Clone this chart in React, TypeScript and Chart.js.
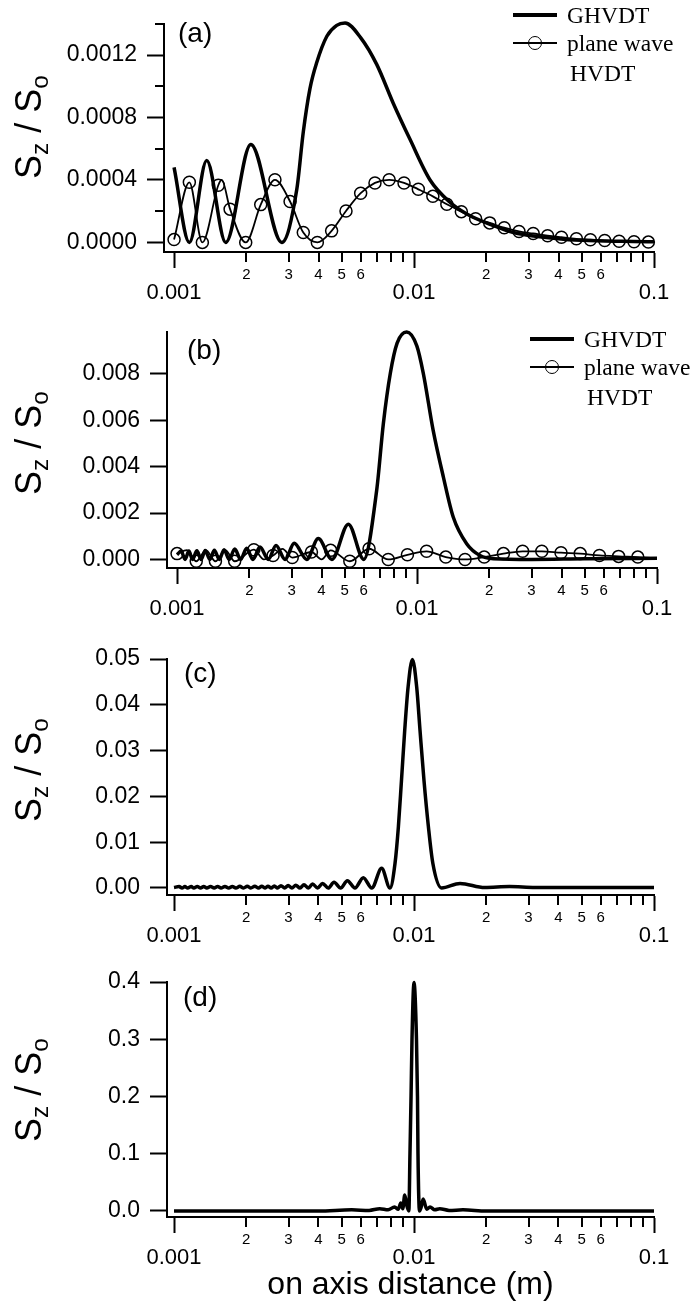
import React, { useEffect, useRef } from 'react';
import { Chart, registerables } from 'chart.js';

Chart.register(...registerables);

const FONT_SANS = '"Liberation Sans", Arial, Helvetica, sans-serif';
const FONT_SERIF = '"Liberation Serif", "Times New Roman", serif';

// ---------- shared x axis ticks ----------
const X_TICKS = [0.001, 0.002, 0.003, 0.004, 0.005, 0.006, 0.007, 0.008, 0.009, 0.01, 0.02, 0.03, 0.04, 0.05, 0.06, 0.07, 0.08, 0.09, 0.1];
const X_TICK_LABELS = ['0.001', '2', '3', '4', '5', '6', '', '', '', '0.01', '2', '3', '4', '5', '6', '', '', '', '0.1'];
const X_MAJOR = [0.001, 0.01, 0.1];

// ---------- panel (a) ----------
const A_Y_TICKS = [0, 0.0004, 0.0008, 0.0012];
const A_Y_LABELS = ['0.0000', '0.0004', '0.0008', '0.0012'];
const A_Y_MINOR = [0.0002, 0.0006, 0.001, 0.0014];
const A_GH_X = [0.001, 0.001158, 0.001368, 0.001642, 0.002089, 0.002812, 0.003247, 0.003456, 0.003684, 0.003928, 0.004332, 0.004762, 0.00516, 0.006, 0.00699, 0.0082, 0.00962, 0.01166, 0.014, 0.0166, 0.0214, 0.02595, 0.0419, 0.1];
const A_GH_Y = [0.00048, 0, 0.000524, 0, 0.000627, 0, 0.00034, 0.000708, 0.000985, 0.00115, 0.00132, 0.00139, 0.001405, 0.00131, 0.00114, 0.00089, 0.00066, 0.0004, 0.000262, 0.000182, 0.000108, 0.000063, 0.000021, 0.000004];
const A_PW_X = [0.001, 0.001158, 0.001312, 0.001529, 0.001712, 0.001989, 0.002297, 0.002633, 0.003044, 0.003456, 0.003954, 0.004535, 0.005206, 0.005993, 0.006874, 0.007875, 0.009085, 0.01042, 0.01198, 0.0137, 0.01575, 0.01806, 0.02067, 0.02376, 0.02738, 0.03137, 0.03603, 0.04115, 0.0475, 0.05432, 0.06231, 0.07155, 0.08254, 0.09475];
const A_PW_Y = [0.000018, 0.000385, 0, 0.000366, 0.000213, 0, 0.000242, 0.000401, 0.000262, 0.000063, 0, 0.000074, 0.000201, 0.000315, 0.000381, 0.000401, 0.000381, 0.00034, 0.000295, 0.000244, 0.000197, 0.000152, 0.000125, 0.000094, 0.00007, 0.000057, 0.000043, 0.000033, 0.000023, 0.000017, 0.000012, 0.000008, 0.000004, 0.000002];
const A_PW_LINE_X = [0.00158, 0.1];
const A_PW_LINE_Y = [0.0004, 0.000002];

// ---------- panel (b) ----------
const B_Y_TICKS = [0, 0.002, 0.004, 0.006, 0.008];
const B_Y_LABELS = ['0.000', '0.002', '0.004', '0.006', '0.008'];
const B_GH_X = [0.001, 0.00104, 0.00108, 0.00112, 0.00116, 0.00121, 0.00126, 0.00131, 0.00137, 0.00143, 0.0015, 0.00157, 0.00165, 0.00174, 0.00184, 0.00195, 0.00207, 0.002216, 0.0024, 0.002585, 0.00282, 0.003077, 0.00347, 0.003877, 0.00442, 0.005175, 0.006, 0.00679, 0.00724, 0.00774, 0.00826, 0.00906, 0.00998, 0.01062, 0.01167, 0.01287, 0.01415, 0.0161, 0.0183, 0.0208, 0.03, 0.05, 0.1];
const B_GH_Y = [0.0002, 0.00036, 0, 0.00036, 0, 0.00037, 0, 0.00038, 0, 0.0004, 0, 0.00042, 0, 0.00045, 0, 0.00048, 0, 0.00053, 0, 0.0006, 0, 0.0007, 0, 0.0009, 0, 0.00152, 0, 0.00298, 0.00586, 0.00802, 0.00932, 0.0098, 0.0092, 0.00802, 0.00557, 0.00356, 0.00183, 0.00068, 0.00017, 0.00003, 0, 0.00003, 0.00005];
const B_PW_X = [0.001, 0.001202, 0.001445, 0.001738, 0.002089, 0.002512, 0.00302, 0.003631, 0.004365, 0.005248, 0.00631, 0.007586, 0.00912, 0.01096, 0.01318, 0.01585, 0.01905, 0.02291, 0.02754, 0.03311, 0.03981, 0.04786, 0.05754, 0.06918, 0.08318];
const B_PW_Y = [0.00025, -0.00008, -0.00008, -0.00008, 0.00042, 0.00017, 0.00008, 0.00032, 0.00039, -0.00008, 0.00046, 0, 0.0002, 0.00035, 0.0001, 0, 0.0001, 0.00025, 0.00035, 0.00035, 0.00029, 0.00025, 0.00017, 0.00013, 0.0001];
const B_PW_LINE_X = [0.0011, 0.00132, 0.00159, 0.0023, 0.00275, 0.004, 0.1];
const B_PW_LINE_Y = [0.0004, 0.0004, 0.0004, 0, 0.00045, 0, 0.00005];

// ---------- panel (c) ----------
const C_Y_TICKS = [0, 0.01, 0.02, 0.03, 0.04, 0.05];
const C_Y_LABELS = ['0.00', '0.01', '0.02', '0.03', '0.04', '0.05'];
const C_GH_X = [0.001, 0.00105, 0.00108, 0.00111, 0.00114, 0.00118, 0.00121, 0.00125, 0.00129, 0.00133, 0.00137, 0.00142, 0.00147, 0.00152, 0.00157, 0.00163, 0.00169, 0.00175, 0.00181, 0.00188, 0.00195, 0.00202, 0.00209, 0.00217, 0.00225, 0.00232, 0.0024, 0.002464, 0.00254, 0.002618, 0.0027, 0.002791, 0.00289, 0.002989, 0.0031, 0.003216, 0.00335, 0.00348, 0.00363, 0.003779, 0.003965, 0.004159, 0.00439, 0.004642, 0.004948, 0.005275, 0.005675, 0.006148, 0.006669, 0.00733, 0.00794, 0.008336, 0.00861, 0.00887, 0.00915, 0.00945, 0.00985, 0.01026, 0.01059, 0.011, 0.01148, 0.01198, 0.01303, 0.01555, 0.0197, 0.025, 0.032, 0.1];
const C_GH_Y = [0.0001, 0.0003, 0, 0.0003, 0, 0.0003, 0, 0.0003, 0, 0.00032, 0, 0.00032, 0, 0.00033, 0, 0.00034, 0, 0.00035, 0, 0.00036, 0, 0.00037, 0, 0.00038, 0, 0.00039, 0, 0.0004, 0, 0.00045, 0, 0.0005, 0, 0.00055, 0, 0.0006, 0, 0.0007, 0, 0.00087, 0, 0.001, 0, 0.00124, 0, 0.0016, 0, 0.00225, 0, 0.0043, 0, 0.0054, 0.0134, 0.0236, 0.0345, 0.0439, 0.0499, 0.0439, 0.0345, 0.0236, 0.0134, 0.0054, 0, 0.001, 0.0001, 0.0003, 0.0001, 0.0001];

// ---------- panel (d) ----------
const D_Y_TICKS = [0, 0.1, 0.2, 0.3, 0.4];
const D_Y_LABELS = ['0.0', '0.1', '0.2', '0.3', '0.4'];
const D_GH_X = [0.001, 0.004, 0.0055, 0.0065, 0.0072, 0.0078, 0.0083, 0.0086, 0.00881, 0.00898, 0.00915, 0.00935, 0.00952, 0.00962, 0.00972, 0.00981, 0.01, 0.01024, 0.01034, 0.01039, 0.01054, 0.0107, 0.01092, 0.0113, 0.01166, 0.0122, 0.0128, 0.014, 0.016, 0.02, 0.1];
const D_GH_Y = [0, 0, 0.002, 0.001, 0.004, 0.002, 0.007, 0.003, 0.014, 0.004, 0.028, 0.008, 0, 0.1, 0.2, 0.3, 0.399, 0.3, 0.2, 0.1, 0, 0.006, 0.021, 0.003, 0.007, 0.002, 0.004, 0.001, 0.002, 0, 0];

// ---------- layout (positions only) ----------
type Panel = {
  key: string;
  top: number; height: number; padTop: number; left: number; right: number; xAxisH: number;
  xMin: number; xMax: number; yMin: number; yMax: number;
  yTicks: number[]; yLabels: string[]; yMinor: number[];
  ghX: number[]; ghY: number[];
  pwX?: number[]; pwY?: number[]; pwLX?: number[]; pwLY?: number[];
  xTitle?: string;
};

const PANELS: Panel[] = [
  { key: 'a', top: 0, height: 306, padTop: 14, left: 164, right: 654, xAxisH: 54, xMin: 0.000908, xMax: 0.1, yMin: -0.0000614, yMax: 0.0014, yTicks: A_Y_TICKS, yLabels: A_Y_LABELS, yMinor: A_Y_MINOR, ghX: A_GH_X, ghY: A_GH_Y, pwX: A_PW_X, pwY: A_PW_Y, pwLX: A_PW_LINE_X, pwLY: A_PW_LINE_Y },
  { key: 'b', top: 306, height: 322, padTop: 26, left: 167, right: 657, xAxisH: 60, xMin: 0.000908, xMax: 0.1, yMin: -0.00037, yMax: 0.0098, yTicks: B_Y_TICKS, yLabels: B_Y_LABELS, yMinor: [], ghX: B_GH_X, ghY: B_GH_Y, pwX: B_PW_X, pwY: B_PW_Y, pwLX: B_PW_LINE_X, pwLY: B_PW_LINE_Y },
  { key: 'c', top: 628, height: 321, padTop: 31, left: 167, right: 654, xAxisH: 54, xMin: 0.000935, xMax: 0.1, yMin: -0.00153, yMax: 0.05, yTicks: C_Y_TICKS, yLabels: C_Y_LABELS, yMinor: [], ghX: C_GH_X, ghY: C_GH_Y },
  { key: 'd', top: 949, height: 355, padTop: 33, left: 167, right: 654, xAxisH: 87, xMin: 0.000935, xMax: 0.1, yMin: -0.0105, yMax: 0.4, yTicks: D_Y_TICKS, yLabels: D_Y_LABELS, yMinor: [], ghX: D_GH_X, ghY: D_GH_Y, xTitle: 'on axis distance (m)' },
];

function pts(xs: number[], ys: number[]) {
  return xs.map((x, i) => ({ x, y: ys[i] }));
}

function makeMinorTicks(yMinor: number[]) {
  return {
    id: 'minorTicks',
    afterDraw(chart: any) {
      const { ctx, chartArea, scales } = chart;
      ctx.save();
      ctx.strokeStyle = '#000';
      ctx.lineWidth = 2;
      for (const v of X_TICKS) {
        if (X_MAJOR.includes(v)) continue;
        const px = Math.round(scales.x.getPixelForValue(v));
        ctx.beginPath();
        ctx.moveTo(px, chartArea.bottom);
        ctx.lineTo(px, chartArea.bottom + 10);
        ctx.stroke();
      }
      for (const v of yMinor) {
        const py = Math.round(scales.y.getPixelForValue(v));
        ctx.beginPath();
        ctx.moveTo(chartArea.left - 9, py);
        ctx.lineTo(chartArea.left, py);
        ctx.stroke();
      }
      ctx.restore();
    },
  };
}

function makeConfig(p: Panel): any {
  const datasets: any[] = [
    {
      label: 'GHVDT',
      data: pts(p.ghX, p.ghY),
      borderColor: '#000',
      borderWidth: 3.5,
      pointRadius: 0,
      cubicInterpolationMode: 'monotone',
      fill: false,
      clip: false,
    },
  ];
  if (p.pwX && p.pwY) {
    const line = pts(p.pwX, p.pwY).concat(pts(p.pwLX || [], p.pwLY || [])).sort((a, b) => a.x - b.x);
    datasets.push({
      label: 'plane wave HVDT',
      data: line,
      borderColor: '#000',
      borderWidth: 1.8,
      pointRadius: 0,
      cubicInterpolationMode: 'monotone',
      fill: false,
      clip: false,
    });
    datasets.push({
      label: 'plane wave HVDT markers',
      data: pts(p.pwX, p.pwY),
      showLine: false,
      pointRadius: 6,
      pointBorderWidth: 1.5,
      pointBorderColor: '#000',
      pointBackgroundColor: 'rgba(0,0,0,0)',
      clip: false,
    });
  }
  return {
    type: 'line',
    data: { datasets },
    plugins: [makeMinorTicks(p.yMinor)],
    options: {
      animation: false,
      responsive: false,
      maintainAspectRatio: false,
      events: [],
      layout: { padding: { top: p.padTop, right: 694 - p.right, bottom: 0, left: 0 } },
      plugins: { legend: { display: false }, tooltip: { enabled: false } },
      scales: {
        x: {
          type: 'logarithmic',
          min: p.xMin,
          max: p.xMax,
          bounds: 'data',
          afterBuildTicks: (s: any) => {
            s.ticks = X_TICKS.map((v) => ({ value: v, major: X_MAJOR.includes(v) }));
          },
          afterFit: (s: any) => {
            s.height = p.xAxisH;
          },
          grid: {
            display: true,
            drawOnChartArea: false,
            drawTicks: true,
            tickLength: 16,
            tickWidth: 2,
            tickColor: (ctx: any) => (X_MAJOR.includes(X_TICKS[ctx.index]) ? '#000' : 'rgba(0,0,0,0)'),
          },
          border: { display: true, width: 2, color: '#000' },
          ticks: {
            autoSkip: false,
            maxRotation: 0,
            minRotation: 0,
            padding: 0,
            color: '#000',
            font: (ctx: any) =>
              X_MAJOR.includes(X_TICKS[ctx.index])
                ? { family: FONT_SANS, size: 22, lineHeight: '16.3px' }
                : { family: FONT_SANS, size: 15, lineHeight: '13px' },
            callback: (_v: any, i: number) => (X_MAJOR.includes(X_TICKS[i]) ? ['', X_TICK_LABELS[i]] : X_TICK_LABELS[i]),
          },
          title: p.xTitle
            ? { display: true, text: p.xTitle, color: '#000', font: { family: FONT_SANS, size: 32, lineHeight: 1.2 }, padding: { top: 0, bottom: 0 } }
            : { display: false },
        },
        y: {
          type: 'linear',
          min: p.yMin,
          max: p.yMax,
          bounds: 'data',
          afterBuildTicks: (s: any) => {
            s.ticks = p.yTicks.map((v) => ({ value: v }));
          },
          afterFit: (s: any) => {
            s.width = p.left;
          },
          grid: {
            display: true,
            drawOnChartArea: false,
            drawTicks: true,
            tickLength: 17,
            tickWidth: 2,
            tickColor: '#000',
          },
          border: { display: true, width: 2, color: '#000' },
          ticks: {
            autoSkip: false,
            padding: 10,
            color: '#000',
            font: { family: FONT_SANS, size: 23 },
            callback: (_v: any, i: number) => p.yLabels[i],
          },
        },
      },
    },
  };
}

function PanelChart({ p }: { p: Panel }) {
  const ref = useRef<HTMLCanvasElement>(null);
  useEffect(() => {
    if (!ref.current) return;
    const chart = new Chart(ref.current, makeConfig(p));
    return () => chart.destroy();
  }, []);
  return (
    <canvas
      ref={ref}
      width={694}
      height={p.height}
      style={{ position: 'absolute', left: 0, top: p.top, width: 694, height: p.height, display: 'block' }}
    />
  );
}

const PANEL_LABELS = [
  { text: '(a)', x: 178, y: 33 },
  { text: '(b)', x: 187, y: 350 },
  { text: '(c)', x: 184, y: 673 },
  { text: '(d)', x: 183, y: 997 },
];

const Y_TITLE_CENTERS = [127, 443, 770, 1090];

const LEGENDS = [
  { lineX: 513, textX: 567, y1: 15, y2: 43, y3: 73, text3X: 570 },
  { lineX: 530, textX: 584, y1: 339, y2: 367, y3: 397, text3X: 587 },
];

function Legend({ l }: { l: (typeof LEGENDS)[number] }) {
  const txt = (s: string, x: number, y: number) => (
    <div
      style={{
        position: 'absolute', left: x, top: y, transform: 'translateY(-50%)',
        fontFamily: FONT_SERIF, fontSize: 23.5, lineHeight: '24px', whiteSpace: 'nowrap', color: '#000',
      }}
    >
      {s}
    </div>
  );
  return (
    <>
      <div style={{ position: 'absolute', left: l.lineX, top: l.y1 - 2, width: 44, height: 4, background: '#000' }} />
      {txt('GHVDT', l.textX, l.y1)}
      <div style={{ position: 'absolute', left: l.lineX, top: l.y2 - 1, width: 44, height: 2, background: '#000' }} />
      <div
        style={{
          position: 'absolute', left: l.lineX + 22 - 7, top: l.y2 - 7, width: 14, height: 14,
          borderRadius: '50%', border: '1.5px solid #000', boxSizing: 'border-box',
        }}
      />
      {txt('plane wave', l.textX, l.y2)}
      {txt('HVDT', l.text3X, l.y3)}
    </>
  );
}

export default function App() {
  const sub = { fontSize: '0.68em', position: 'relative' as const, top: '0.28em' };
  return (
    <div
      style={{
        position: 'absolute', left: 0, top: 0, width: 694, height: 1304, background: '#fff',
        overflow: 'hidden', fontFamily: FONT_SANS, color: '#000',
      }}
    >
      {PANELS.map((p) => (
        <PanelChart key={p.key} p={p} />
      ))}
      {PANEL_LABELS.map((l) => (
        <div
          key={l.text}
          style={{ position: 'absolute', left: l.x, top: l.y, transform: 'translateY(-50%)', fontSize: 28, lineHeight: '30px' }}
        >
          {l.text}
        </div>
      ))}
      {Y_TITLE_CENTERS.map((cy, i) => (
        <div
          key={i}
          style={{
            position: 'absolute', left: 31, top: cy, transform: 'translate(-50%, -50%) rotate(-90deg)',
            fontSize: 36, lineHeight: '36px', whiteSpace: 'nowrap',
          }}
        >
          S<span style={sub}>z</span> / S<span style={sub}>o</span>
        </div>
      ))}
      {LEGENDS.map((l, i) => (
        <Legend key={i} l={l} />
      ))}
    </div>
  );
}
